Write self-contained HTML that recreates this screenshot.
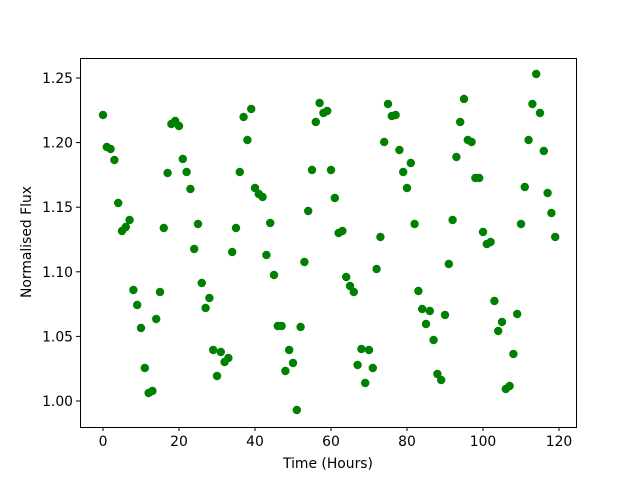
<!DOCTYPE html>
<html><head><meta charset="utf-8"><style>
html,body{margin:0;padding:0;background:#fff;}
svg{display:block;font-family:"DejaVu Sans","Liberation Sans",sans-serif;}
</style></head><body>
<svg width="640" height="480" viewBox="0 0 640 480" xmlns="http://www.w3.org/2000/svg">
<rect width="640" height="480" fill="#fff"/>
<g fill="#008000">
<circle cx="103" cy="115" r="4.2"/><circle cx="106.8" cy="147" r="4.2"/><circle cx="110.6" cy="149" r="4.2"/><circle cx="114.4" cy="160" r="4.2"/><circle cx="118.2" cy="203" r="4.2"/><circle cx="122" cy="231" r="4.2"/><circle cx="125.8" cy="227" r="4.2"/><circle cx="129.6" cy="220" r="4.2"/><circle cx="133.4" cy="290" r="4.2"/><circle cx="137.2" cy="305" r="4.2"/><circle cx="141" cy="328" r="4.2"/><circle cx="144.8" cy="368" r="4.2"/><circle cx="148.6" cy="393" r="4.2"/><circle cx="152.4" cy="391" r="4.2"/><circle cx="156.2" cy="319" r="4.2"/><circle cx="160" cy="292" r="4.2"/><circle cx="163.8" cy="228" r="4.2"/><circle cx="167.6" cy="173" r="4.2"/><circle cx="171.4" cy="124" r="4.2"/><circle cx="175.2" cy="121" r="4.2"/><circle cx="179" cy="126" r="4.2"/><circle cx="182.8" cy="159" r="4.2"/><circle cx="186.6" cy="172" r="4.2"/><circle cx="190.4" cy="189" r="4.2"/><circle cx="194.2" cy="249" r="4.2"/><circle cx="198" cy="224" r="4.2"/><circle cx="201.8" cy="283" r="4.2"/><circle cx="205.6" cy="308" r="4.2"/><circle cx="209.4" cy="298" r="4.2"/><circle cx="213.2" cy="350" r="4.2"/><circle cx="217" cy="376" r="4.2"/><circle cx="220.8" cy="352" r="4.2"/><circle cx="224.6" cy="362" r="4.2"/><circle cx="228.4" cy="358" r="4.2"/><circle cx="232.2" cy="252" r="4.2"/><circle cx="236" cy="228" r="4.2"/><circle cx="239.8" cy="172" r="4.2"/><circle cx="243.6" cy="117" r="4.2"/><circle cx="247.4" cy="140" r="4.2"/><circle cx="251.2" cy="109" r="4.2"/><circle cx="255" cy="188" r="4.2"/><circle cx="258.8" cy="194" r="4.2"/><circle cx="262.6" cy="197" r="4.2"/><circle cx="266.4" cy="255" r="4.2"/><circle cx="270.2" cy="223" r="4.2"/><circle cx="274" cy="275" r="4.2"/><circle cx="277.8" cy="326" r="4.2"/><circle cx="281.6" cy="326" r="4.2"/><circle cx="285.4" cy="371" r="4.2"/><circle cx="289.2" cy="350" r="4.2"/><circle cx="293" cy="363" r="4.2"/><circle cx="296.8" cy="410" r="4.2"/><circle cx="300.6" cy="327" r="4.2"/><circle cx="304.4" cy="262" r="4.2"/><circle cx="308.2" cy="211" r="4.2"/><circle cx="312" cy="170" r="4.2"/><circle cx="315.8" cy="122" r="4.2"/><circle cx="319.6" cy="103" r="4.2"/><circle cx="323.4" cy="113" r="4.2"/><circle cx="327.2" cy="111" r="4.2"/><circle cx="331" cy="170" r="4.2"/><circle cx="334.8" cy="198" r="4.2"/><circle cx="338.6" cy="233" r="4.2"/><circle cx="342.4" cy="231" r="4.2"/><circle cx="346.2" cy="277" r="4.2"/><circle cx="350" cy="286" r="4.2"/><circle cx="353.8" cy="292" r="4.2"/><circle cx="357.6" cy="365" r="4.2"/><circle cx="361.4" cy="349" r="4.2"/><circle cx="365.2" cy="383" r="4.2"/><circle cx="369" cy="350" r="4.2"/><circle cx="372.8" cy="368" r="4.2"/><circle cx="376.6" cy="269" r="4.2"/><circle cx="380.4" cy="237" r="4.2"/><circle cx="384.2" cy="142" r="4.2"/><circle cx="388" cy="104" r="4.2"/><circle cx="391.8" cy="116" r="4.2"/><circle cx="395.6" cy="115" r="4.2"/><circle cx="399.4" cy="150" r="4.2"/><circle cx="403.2" cy="172" r="4.2"/><circle cx="407" cy="188" r="4.2"/><circle cx="410.8" cy="163" r="4.2"/><circle cx="414.6" cy="224" r="4.2"/><circle cx="418.4" cy="291" r="4.2"/><circle cx="422.2" cy="309" r="4.2"/><circle cx="426" cy="324" r="4.2"/><circle cx="429.8" cy="311" r="4.2"/><circle cx="433.6" cy="340" r="4.2"/><circle cx="437.4" cy="374" r="4.2"/><circle cx="441.2" cy="380" r="4.2"/><circle cx="445" cy="315" r="4.2"/><circle cx="448.8" cy="264" r="4.2"/><circle cx="452.6" cy="220" r="4.2"/><circle cx="456.4" cy="157" r="4.2"/><circle cx="460.2" cy="122" r="4.2"/><circle cx="464" cy="99" r="4.2"/><circle cx="467.8" cy="140" r="4.2"/><circle cx="471.6" cy="142" r="4.2"/><circle cx="475.4" cy="178" r="4.2"/><circle cx="479.2" cy="178" r="4.2"/><circle cx="483" cy="232" r="4.2"/><circle cx="486.8" cy="244" r="4.2"/><circle cx="490.6" cy="242" r="4.2"/><circle cx="494.4" cy="301" r="4.2"/><circle cx="498.2" cy="331" r="4.2"/><circle cx="502" cy="322" r="4.2"/><circle cx="505.8" cy="389" r="4.2"/><circle cx="509.6" cy="386" r="4.2"/><circle cx="513.4" cy="354" r="4.2"/><circle cx="517.2" cy="314" r="4.2"/><circle cx="521" cy="224" r="4.2"/><circle cx="524.8" cy="187" r="4.2"/><circle cx="528.6" cy="140" r="4.2"/><circle cx="532.4" cy="104" r="4.2"/><circle cx="536.2" cy="74" r="4.2"/><circle cx="540" cy="113" r="4.2"/><circle cx="543.8" cy="151" r="4.2"/><circle cx="547.6" cy="193" r="4.2"/><circle cx="551.4" cy="213" r="4.2"/><circle cx="555.2" cy="237" r="4.2"/>
</g>
<rect x="80.5" y="58.5" width="496" height="369" fill="none" stroke="#000" stroke-width="1"/>
<g stroke="#000" stroke-width="1">
<line x1="103" y1="427" x2="103" y2="431"/><line x1="179" y1="427" x2="179" y2="431"/><line x1="255" y1="427" x2="255" y2="431"/><line x1="331" y1="427" x2="331" y2="431"/><line x1="407" y1="427" x2="407" y2="431"/><line x1="483" y1="427" x2="483" y2="431"/><line x1="559" y1="427" x2="559" y2="431"/>
<line x1="76" y1="401" x2="80" y2="401"/><line x1="76" y1="336.4" x2="80" y2="336.4"/><line x1="76" y1="271.8" x2="80" y2="271.8"/><line x1="76" y1="207.2" x2="80" y2="207.2"/><line x1="76" y1="142.6" x2="80" y2="142.6"/><line x1="76" y1="78" x2="80" y2="78"/>
</g>
<g font-size="13.9" fill="#000" text-anchor="middle">
<text x="103" y="446">0</text><text x="179" y="446">20</text><text x="255" y="446">40</text><text x="331" y="446">60</text><text x="407" y="446">80</text><text x="483" y="446">100</text><text x="559" y="446">120</text>
</g>
<g font-size="13.9" fill="#000" text-anchor="end">
<text x="73" y="406">1.00</text><text x="73" y="341.4">1.05</text><text x="73" y="276.8">1.10</text><text x="73" y="212.2">1.15</text><text x="73" y="147.6">1.20</text><text x="73" y="83">1.25</text>
</g>
<text x="328" y="468" font-size="13.9" text-anchor="middle">Time (Hours)</text>
<text transform="translate(31,242) rotate(-90)" font-size="13.9" text-anchor="middle">Normalised Flux</text>
</svg>
</body></html>
